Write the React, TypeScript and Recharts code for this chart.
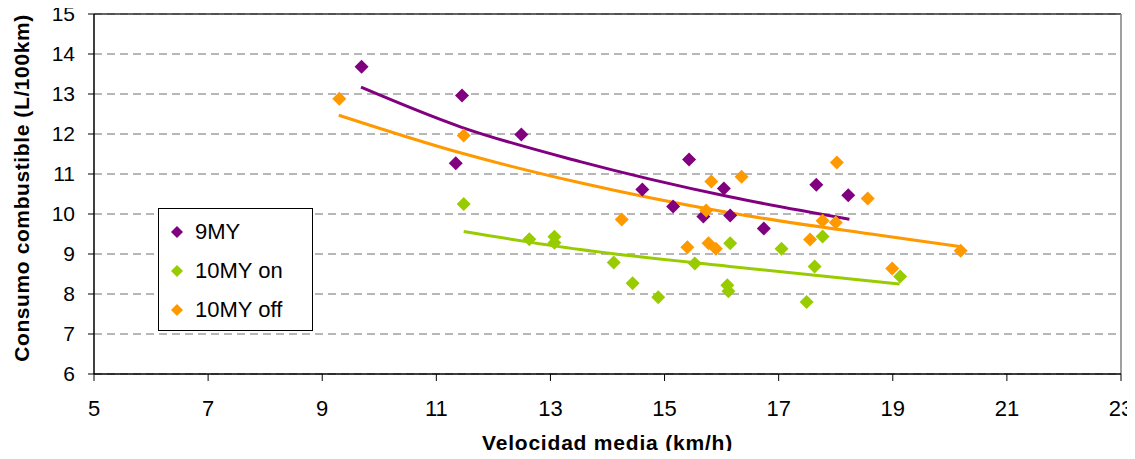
import React from 'react';
import {
  CartesianGrid,
  ComposedChart,
  Line,
  ReferenceLine,
  Scatter,
  XAxis,
  YAxis,
} from 'recharts';

const my9 = [
  { x: 9.69, y: 13.68 },
  { x: 11.45, y: 12.96 },
  { x: 12.49, y: 11.99 },
  { x: 11.34, y: 11.27 },
  { x: 15.43, y: 11.36 },
  { x: 14.61, y: 10.61 },
  { x: 16.04, y: 10.64 },
  { x: 15.15, y: 10.19 },
  { x: 15.68, y: 9.94 },
  { x: 16.15, y: 9.96 },
  { x: 16.74, y: 9.64 },
  { x: 17.66, y: 10.73 },
  { x: 18.22, y: 10.47 },
];

const my10On = [
  { x: 11.48, y: 10.25 },
  { x: 12.63, y: 9.37 },
  { x: 13.07, y: 9.43 },
  { x: 13.07, y: 9.28 },
  { x: 14.11, y: 8.79 },
  { x: 14.44, y: 8.27 },
  { x: 14.89, y: 7.92 },
  { x: 15.53, y: 8.76 },
  { x: 16.1, y: 8.22 },
  { x: 16.12, y: 8.07 },
  { x: 16.15, y: 9.27 },
  { x: 17.05, y: 9.13 },
  { x: 17.49, y: 7.8 },
  { x: 17.63, y: 8.69 },
  { x: 17.77, y: 9.44 },
  { x: 19.13, y: 8.44 },
];

const my10Off = [
  { x: 9.3, y: 12.88 },
  { x: 11.48, y: 11.96 },
  { x: 14.25, y: 9.86 },
  { x: 15.4, y: 9.17 },
  { x: 15.77, y: 9.27 },
  { x: 15.9, y: 9.13 },
  { x: 15.73, y: 10.09 },
  { x: 15.82, y: 10.81 },
  { x: 16.35, y: 10.93 },
  { x: 17.55, y: 9.36 },
  { x: 17.77, y: 9.83 },
  { x: 18.0, y: 9.79 },
  { x: 18.02, y: 11.29 },
  { x: 18.56, y: 10.39 },
  { x: 18.99, y: 8.64 },
  { x: 20.19, y: 9.08 },
];

// Trend lines, points
const trend9 = [
  { x: 9.68, y: 13.17 },
  { x: 11.42, y: 12.18 },
  { x: 13.52, y: 11.31 },
  { x: 16.14, y: 10.43 },
  { x: 18.24, y: 9.87 },
];

const trendOn = [
  { x: 11.48, y: 9.56 },
  { x: 13.52, y: 9.11 },
  { x: 16.14, y: 8.69 },
  { x: 19.12, y: 8.25 },
];

const trendOff = [
  { x: 9.29, y: 12.47 },
  { x: 11.42, y: 11.53 },
  { x: 13.52, y: 10.78 },
  { x: 16.14, y: 10.03 },
  { x: 18.77, y: 9.47 },
  { x: 20.17, y: 9.19 },
];

const xTicks = [5, 7, 9, 11, 13, 15, 17, 19, 21, 23];
const yTicks = [6, 7, 8, 9, 10, 11, 12, 13, 14, 15];

const PURPLE = '#800080';
const GREEN = '#99CC00';
const ORANGE = '#FF9900';

const FONT = '"Liberation Sans", Arial, sans-serif';

const Diamond = (props: any) => {
  const { cx, cy, fill } = props;
  if (cx == null || cy == null) return null;
  const r = 7;
  return (
    <polygon
      points={`${cx},${cy - r} ${cx + r},${cy} ${cx},${cy + r} ${cx - r},${cy}`}
      fill={fill}
    />
  );
};

const legendItems = [
  { name: '9MY', color: PURPLE },
  { name: '10MY on', color: GREEN },
  { name: '10MY off', color: ORANGE },
];

const LegendBox = () => (
  <div
    style={{
      position: 'absolute',
      left: 158,
      top: 208,
      border: '1px solid #000',
      background: '#fff',
      width: 155,
      height: 123,
      boxSizing: 'border-box',
      padding: '3px 0 0 10px',
      fontFamily: FONT,
      fontSize: 22,
      color: '#000',
    }}
  >
    {legendItems.map((it) => (
      <div key={it.name} style={{ display: 'flex', alignItems: 'center', height: 39 }}>
        <svg width={16} height={16} style={{ marginRight: 10 }}>
          <polygon points="8,2 14,8 8,14 2,8" fill={it.color} />
        </svg>
        <span>{it.name}</span>
      </div>
    ))}
  </div>
);

export default function App() {
  return (
    <div style={{ margin: -8, width: 1135, height: 459, background: '#fff', position: 'relative' }}>
      <ComposedChart
        width={1135}
        height={459}
        margin={{ top: 14, right: 14, bottom: 0, left: 0 }}
      >
        <CartesianGrid
          horizontal
          vertical={false}
          stroke="#A0A0A0"
          strokeDasharray="8 5"
          strokeWidth={1.3}
        />
        <XAxis
          type="number"
          dataKey="x"
          domain={[5, 23]}
          ticks={xTicks}
          interval={0}
          height={85}
          axisLine={{ stroke: '#000', strokeWidth: 1.5 }}
          tickLine={{ stroke: '#000' }}
          tickSize={7}
          tickMargin={19}
          tick={{ fill: '#000', fontSize: 22, fontFamily: FONT }}
          label={{
            value: 'Velocidad media (km/h)',
            position: 'insideBottom',
            offset: 9,
            fill: '#000',
            fontSize: 21,
            fontWeight: 'bold',
            fontFamily: FONT,
            letterSpacing: 0.8,
          }}
        />
        <YAxis
          type="number"
          dataKey="y"
          domain={[6, 15]}
          ticks={yTicks}
          interval={0}
          width={94}
          axisLine={{ stroke: '#000', strokeWidth: 1.5 }}
          tickLine={{ stroke: '#000' }}
          tickSize={6}
          tickMargin={13}
          tick={{ fill: '#000', fontSize: 21, fontFamily: FONT }}
          label={{
            value: 'Consumo combustible (L/100km)',
            angle: -90,
            position: 'insideLeft',
            offset: 22,
            dy: -6,
            style: { textAnchor: 'middle' },
            fill: '#000',
            fontSize: 21,
            fontWeight: 'bold',
            fontFamily: FONT,
            letterSpacing: 0.6,
          }}
        />
        <ReferenceLine y={15} stroke="#303030" strokeWidth={1.5} ifOverflow="visible" />
        <ReferenceLine x={23} stroke="#808080" strokeWidth={1.5} ifOverflow="visible" />

        <Line
          data={trend9}
          dataKey="y"
          type="monotone"
          stroke={PURPLE}
          strokeWidth={3}
          dot={false}
          activeDot={false}
          legendType="none"
          isAnimationActive={false}
        />
        <Line
          data={trendOff}
          dataKey="y"
          type="monotone"
          stroke={ORANGE}
          strokeWidth={3}
          dot={false}
          activeDot={false}
          legendType="none"
          isAnimationActive={false}
        />
        <Line
          data={trendOn}
          dataKey="y"
          type="monotone"
          stroke={GREEN}
          strokeWidth={3}
          dot={false}
          activeDot={false}
          legendType="none"
          isAnimationActive={false}
        />

        <Scatter name="9MY" data={my9} fill={PURPLE} shape={Diamond} isAnimationActive={false} />
        <Scatter name="10MY on" data={my10On} fill={GREEN} shape={Diamond} isAnimationActive={false} />
        <Scatter name="10MY off" data={my10Off} fill={ORANGE} shape={Diamond} isAnimationActive={false} />
      </ComposedChart>
      <LegendBox />
    </div>
  );
}
